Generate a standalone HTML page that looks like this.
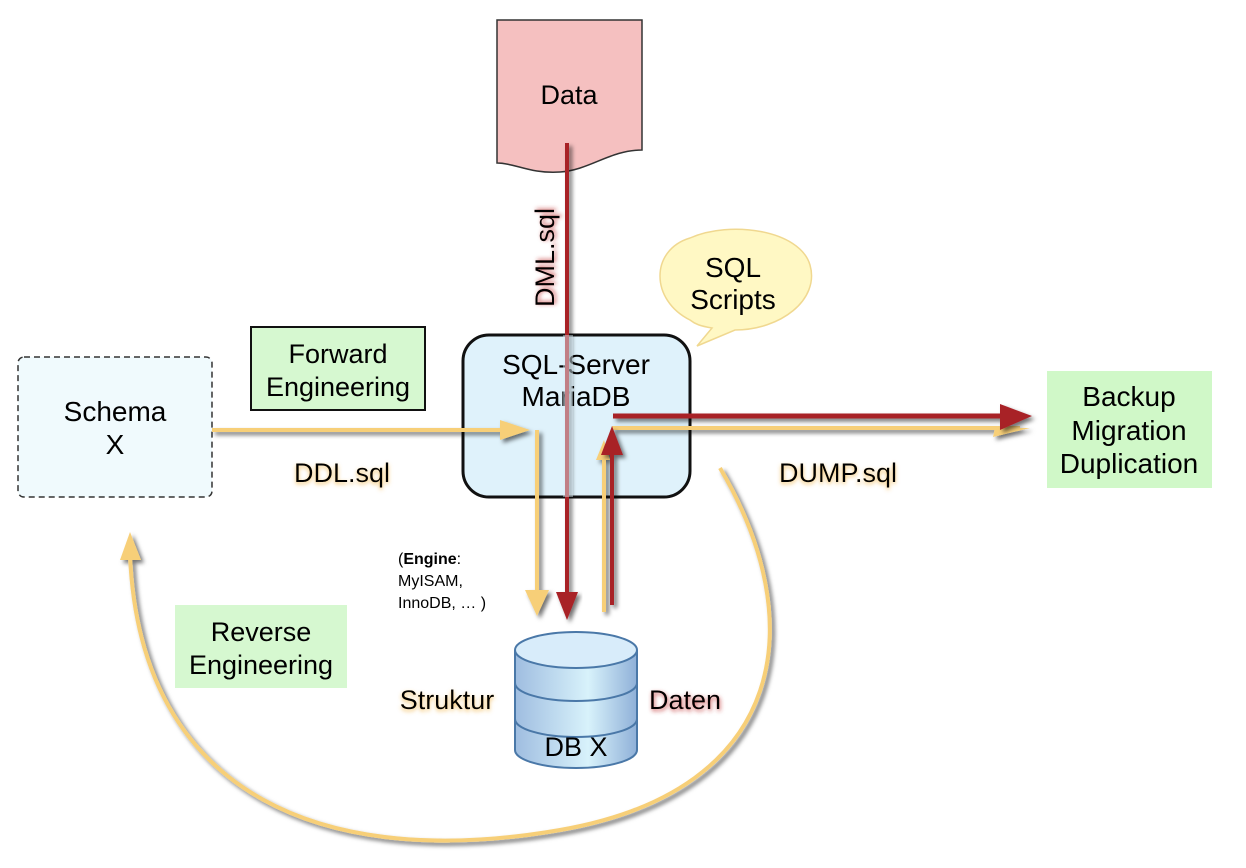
<!DOCTYPE html>
<html><head><meta charset="utf-8"><style>
html,body{margin:0;padding:0;background:#fff;}
svg{display:block;font-family:"Liberation Sans",sans-serif;}
</style></head><body>
<svg width="1246" height="868" viewBox="0 0 1246 868" xmlns="http://www.w3.org/2000/svg">
<defs>
<filter id="sh" x="-20%" y="-20%" width="140%" height="140%"><feDropShadow dx="3" dy="3" stdDeviation="2" flood-color="#000" flood-opacity="0.55"/></filter>
<filter id="ty" x="-20%" y="-20%" width="140%" height="160%"><feDropShadow dx="0" dy="2" stdDeviation="2" flood-color="#f0b040" flood-opacity="0.8"/></filter>
<filter id="tr" x="-20%" y="-20%" width="140%" height="160%"><feDropShadow dx="1" dy="2" stdDeviation="2" flood-color="#c03030" flood-opacity="0.8"/></filter>
<linearGradient id="cyl" x1="0" x2="1"><stop offset="0" stop-color="#9fbde0"/><stop offset="0.6" stop-color="#d8f2fb"/><stop offset="1" stop-color="#8fb0d8"/></linearGradient>
</defs>

<path d="M497,20 H642 V150 C610,150 590,170 560,172 C530,174 515,163 497,163 Z" fill="#f5c0c0" stroke="#333" stroke-width="1.5"/>
<text x="569" y="104" font-size="27" text-anchor="middle">Data</text>

<rect x="18" y="357" width="194" height="140" rx="6" fill="#f0fafd" stroke="#333" stroke-width="1.5" stroke-dasharray="6,4"/>
<text x="115" y="421" font-size="28" text-anchor="middle">Schema</text>
<text x="115" y="454" font-size="28" text-anchor="middle">X</text>

<rect x="251" y="327" width="174" height="83" fill="#d6f8d0" stroke="#111" stroke-width="2"/>
<text x="338" y="363" font-size="27" text-anchor="middle">Forward</text>
<text x="338" y="396" font-size="27" text-anchor="middle">Engineering</text>

<path d="M690,320 C650,300 650,250 690,238 C730,220 800,230 810,265 C820,300 780,330 735,330 L697,346 L712,328 C700,326 695,324 690,320 Z" fill="#fff8c4" stroke="#f0d890" stroke-width="1.5"/>
<text x="733" y="277" font-size="28" text-anchor="middle">SQL</text>
<text x="733" y="309" font-size="28" text-anchor="middle">Scripts</text>

<rect x="463" y="335" width="227" height="162" rx="26" fill="#dff2fb" stroke="#111" stroke-width="3"/>
<text x="576" y="374" font-size="28" text-anchor="middle">SQL-Server</text>
<text x="576" y="406" font-size="28" text-anchor="middle">MariaDB</text>

<rect x="1047" y="371" width="165" height="117" fill="#d0f8c8"/>
<text x="1129" y="406" font-size="28" text-anchor="middle">Backup</text>
<text x="1129" y="440" font-size="28" text-anchor="middle">Migration</text>
<text x="1129" y="473" font-size="28" text-anchor="middle">Duplication</text>

<rect x="175" y="605" width="172" height="83" fill="#d6f8d0"/>
<text x="261" y="641" font-size="27" text-anchor="middle">Reverse</text>
<text x="261" y="674" font-size="27" text-anchor="middle">Engineering</text>

<g filter="url(#sh)">
<path d="M212,430 H505" stroke="#f7cf78" stroke-width="4" fill="none"/>
<path d="M500,420 L530,430 L500,440 Z" fill="#f7cf78"/>
<path d="M537,430 V592" stroke="#f7cf78" stroke-width="4" fill="none"/>
<path d="M525,590 L537,616 L549,590 Z" fill="#f7cf78"/>
</g>

<g filter="url(#sh)">
<path d="M567,143 V595" stroke="#a82028" stroke-width="4" fill="none"/>
<path d="M556,592 L567,620 L578,592 Z" fill="#a82028"/>
</g>
<rect x="563" y="335" width="10" height="162" fill="#dff2fb" opacity="0.45"/>

<g filter="url(#sh)">
<path d="M604,612 V455" stroke="#f7cf78" stroke-width="4" fill="none"/>
<path d="M596,460 L604,440 L610,460 Z" fill="#f7cf78"/>
<path d="M612,428 H1020" stroke="#f7cf78" stroke-width="4" fill="none"/>
<path d="M995,428 L1030,428 L993,437 Z" fill="#f7cf78"/>
</g>
<g filter="url(#sh)">
<path d="M612,605 V440" stroke="#a82028" stroke-width="4" fill="none"/>
<path d="M601,455 L612,426 L623,455 Z" fill="#a82028"/>
<path d="M613,416 H1005" stroke="#a82028" stroke-width="5" fill="none"/>
<path d="M1000,404 L1032,416 L1000,430 Z" fill="#a82028"/>
</g>

<g filter="url(#sh)">
<path d="M720,468 C810,620 790,790 560,830 C330,870 140,800 130,555" stroke="#f7cf78" stroke-width="4" fill="none"/>
<path d="M120,560 L130,532 L141,560 Z" fill="#f7cf78"/>
</g>

<text x="342" y="482" font-size="27" text-anchor="middle" filter="url(#ty)">DDL.sql</text>
<text x="838" y="482" font-size="27" text-anchor="middle" filter="url(#ty)">DUMP.sql</text>
<text transform="translate(554,307) rotate(-90)" font-size="27" filter="url(#tr)">DML.sql</text>
<text x="447" y="709" font-size="27" text-anchor="middle" filter="url(#ty)">Struktur</text>
<text x="685" y="709" font-size="27" text-anchor="middle" filter="url(#tr)">Daten</text>
<text x="398" y="564" font-size="16">(<tspan font-weight="bold">Engine</tspan>:</text>
<text x="398" y="586" font-size="16">MyISAM,</text>
<text x="398" y="608" font-size="16">InnoDB, … )</text>

<g stroke="#4a78a8" stroke-width="2">
<path d="M515,650 V750 A61,18 0 0 0 637,750 V650" fill="url(#cyl)"/>
<path d="M515,683 A61,18 0 0 0 637,683" fill="none"/>
<path d="M515,719 A61,18 0 0 0 637,719" fill="none"/>
<ellipse cx="576" cy="650" rx="61" ry="18" fill="#d8ecfa"/>
</g>
<text x="576" y="756" font-size="27" text-anchor="middle">DB X</text>
</svg>
</body></html>
